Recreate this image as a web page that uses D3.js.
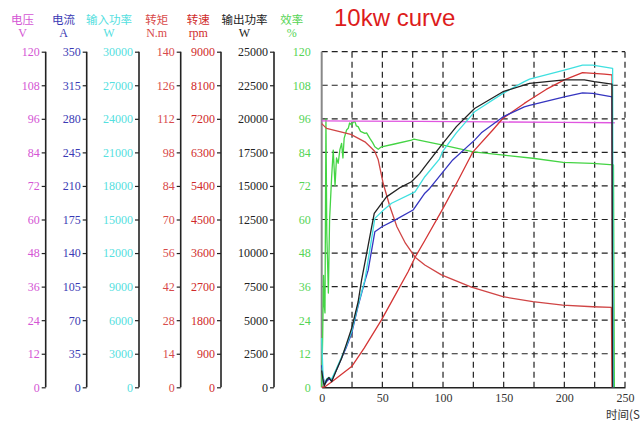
<!DOCTYPE html>
<html>
<head>
<meta charset="utf-8">
<script src="https://cdn.jsdelivr.net/npm/d3@7"></script>
<style>
  body { margin: 0; background: #fff; }
  svg { display: block; }
  .num { font-family: "Liberation Serif", "DejaVu Serif", serif; font-size: 12px; }
  .cjk { font-family: "Noto Sans CJK SC", sans-serif; font-size: 11.5px; }
</style>
</head>
<body>
<svg id="chart" width="641" height="423"></svg>
<script>
// ============================================================
//  Data (time in s, values in each axis' own unit)
// ============================================================

const timeTicks = [0, 50, 100, 150, 200, 250];
const gridTimes = [25, 50, 75, 100, 125, 150, 175, 200, 225, 250];

const voltTicks = [0, 12, 24, 36, 48, 60, 72, 84, 96, 108, 120];
const ampTicks = [0, 35, 70, 105, 140, 175, 210, 245, 280, 315, 350];
const inPowTicks = [0, 3000, 6000, 9000, 12000, 15000, 18000, 21000, 24000, 27000, 30000];
const torqueTicks = [0, 14, 28, 42, 56, 70, 84, 98, 112, 126, 140];
const rpmTicks = [0, 900, 1800, 2700, 3600, 4500, 5400, 6300, 7200, 8100, 9000];
const outPowTicks = [0, 2500, 5000, 7500, 10000, 12500, 15000, 17500, 20000, 22500, 25000];
const effTicks = [0, 12, 24, 36, 48, 60, 72, 84, 96, 108, 120];

// voltage, V
const voltage = [[0, 95.3], [30, 95.2], [80, 95.1], [140, 94.9], [200, 94.7], [241.5, 94.6]];

// current, A
const current = [[0, 23], [1, 12], [2.5, 3], [4, 6], [6, 8.7], [8.2, 7.3], [12, 17.5], [16.4, 30.6],
  [20, 40.8], [24.7, 56.3], [30, 84.6], [35.6, 110.8], [38.3, 122.2], [43.8, 162.2], [50, 167.7],
  [60.3, 174.4], [75.3, 184.9], [85, 202.4], [89, 207.4], [100, 224.6], [108, 237.1], [126, 257.8],
  [131.6, 265.4], [149.4, 282], [167, 292.5], [171.3, 294], [200, 303], [215, 307.1], [223.4, 306.5],
  [239.5, 303], [240, 0]];

// input power, W
const inputPower = [[0, 4400], [1.3, 350], [2.5, 375], [4, 750], [6, 875], [8.2, 750], [12, 1625],
  [16.4, 2700], [20, 3625], [24.7, 5000], [30, 7375], [35.6, 9600], [40, 12500], [43.8, 15100],
  [50, 15750], [57.6, 16450], [76.9, 17475], [85, 18825], [97, 20400], [100, 21125], [111, 22750],
  [126, 24625], [149.4, 26275], [167, 27325], [171.3, 27550], [200, 28350], [215, 28800],
  [223.4, 28800], [239.8, 28500], [240.3, 0]];

// torque, N.m
const torque = [[0, 110], [4, 108], [24, 105.5], [35.6, 102.4], [41, 99.8], [43.8, 98.4], [46.6, 94.9],
  [50.7, 85], [56.2, 75.4], [62, 67], [69, 60.1], [77, 54.3], [85, 51], [98.7, 46.9], [123.4, 41.8],
  [149.4, 37.8], [174, 35.7], [198.7, 34.3], [223.4, 33.6], [238.8, 33.3], [239.3, 0]];

// speed, rpm
const speed = [[0, 0], [2.7, 15], [10, 188], [24.7, 555], [35, 1050], [49.3, 1808], [60, 2438],
  [71.2, 3098], [77, 3488], [85, 3938], [100, 4800], [110, 5400], [124.7, 6315], [141, 6900],
  [149.4, 7215], [167, 7613], [171.3, 7703], [185, 7988], [200, 8243], [215, 8438], [233, 8400],
  [239.3, 8378], [239.8, 0]];

// output power, W
const outputPower = [[0, 1250], [1, 625], [2, 104], [4, 542], [6, 729], [8.2, 417], [12, 1250],
  [16.4, 2167], [20, 3125], [24.7, 4396], [30, 6354], [32.9, 8000], [38, 10417], [43.3, 12958],
  [53.4, 14188], [65, 14896], [74, 15313], [80.8, 15938], [85, 16438], [98.7, 18042], [111, 19417],
  [126, 20771], [149.4, 22021], [171.3, 22646], [200, 22896], [216.5, 22896], [224.7, 22771],
  [239.3, 22583], [239.8, 0]];

// efficiency, %
const efficiency = [[0, 0], [0.8, 18], [1.5, 40], [2, 30], [2.7, 26.6], [3.5, 96], [4.2, 55],
  [5.5, 33.7], [6.5, 60], [8.2, 75.3], [9.5, 84.8], [11, 72], [12.2, 82], [13.6, 80.1], [15, 85],
  [16.4, 87.2], [17.5, 82], [18.5, 89], [20.5, 92], [21.9, 92.6], [23, 94.5], [24.7, 93.8],
  [26, 94.8], [27.4, 95], [28.5, 93.5], [30, 93.2], [32, 91.5], [35.6, 90.8], [37, 91], [39.7, 89],
  [42, 87.5], [43.8, 86], [46.6, 85.1], [49.3, 86], [60, 87], [74, 88.4], [76, 88.7], [100, 86.6],
  [125, 84.2], [150, 83], [174, 81.9], [199, 80.4], [223, 80.1], [240.5, 79.5], [241.2, 0]];

// ============================================================
//  Layout
// ============================================================

const svg = d3.select('#chart');
const plot = { left: 321.7, right: 625, top: 51.7, bottom: 387.3 };

const x = d3.scaleLinear().domain([0, 250]).range([plot.left, plot.right]);
const yOf = max => d3.scaleLinear().domain([0, max]).range([plot.bottom, plot.top]);

const axes = [
  { name: '电压', unit: 'V', ticks: voltTicks, pos: 45.7, head: 22.5, color: '#d455d4' },
  { name: '电流', unit: 'A', ticks: ampTicks, pos: 86.7, head: 63.5, color: '#3a3ab4' },
  { name: '输入功率', unit: 'W', ticks: inPowTicks, pos: 139, head: 109, color: '#55e0e0' },
  { name: '转矩', unit: 'N.m', ticks: torqueTicks, pos: 180.7, head: 156.7, color: '#d84a4a' },
  { name: '转速', unit: 'rpm', ticks: rpmTicks, pos: 221, head: 198.3, color: '#cf2a2a' },
  { name: '输出功率', unit: 'W', ticks: outPowTicks, pos: 274, head: 244.5, color: '#222' },
  { name: '效率', unit: '%', ticks: effTicks, pos: plot.left, head: 291.7, color: '#55d455' },
];

// ============================================================
//  Grid
// ============================================================

const effScale = yOf(120);
const grid = svg.append('g')
  .attr('stroke', '#222').attr('stroke-width', 1.2).attr('stroke-dasharray', '6,4');

grid.selectAll('line.h').data(effTicks.slice(1)).join('line')
  .attr('x1', plot.left).attr('x2', plot.right)
  .attr('y1', d => effScale(d)).attr('y2', d => effScale(d));

grid.selectAll('line.v').data(gridTimes).join('line')
  .attr('x1', d => x(d)).attr('x2', d => x(d))
  .attr('y1', plot.top).attr('y2', plot.bottom);

// ============================================================
//  Left axes
// ============================================================

axes.forEach((a, idx) => {
  const scale = yOf(a.ticks[a.ticks.length - 1]);
  const isEff = idx === axes.length - 1;
  const g = svg.append('g').attr('transform', `translate(${a.pos},0)`);
  g.call(d3.axisLeft(scale).tickValues(a.ticks)
    .tickSize(isEff ? 0 : 4).tickPadding(isEff ? 11 : 2).tickFormat(d3.format('d')));
  g.select('.domain').remove();
  g.selectAll('.tick line').attr('stroke', '#222').attr('stroke-width', 1.2);
  g.selectAll('.tick text').attr('class', 'num').attr('fill', a.color).attr('font-size', null)
    .attr('font-family', null);
  g.append('line')
    .attr('y1', plot.top).attr('y2', plot.bottom)
    .attr('stroke', isEff ? '#888' : '#222').attr('stroke-width', isEff ? 2 : 1.6);

  svg.append('text').attr('class', 'cjk').attr('x', a.head).attr('y', 24)
    .attr('text-anchor', 'middle').attr('fill', a.color).text(a.name);
  svg.append('text').attr('class', 'num').attr('x', a.head).attr('y', 37)
    .attr('text-anchor', 'middle').attr('fill', a.color).text(a.unit);
});

// ============================================================
//  Bottom axis
// ============================================================

const xg = svg.append('g').attr('transform', `translate(0,${plot.bottom})`);
xg.call(d3.axisBottom(x).tickValues(timeTicks).tickSize(0).tickPadding(6));
xg.select('.domain').attr('stroke', '#222').attr('stroke-width', 1.6);
xg.selectAll('.tick text').attr('class', 'num').attr('fill', '#333')
  .attr('font-size', null).attr('font-family', null);

svg.append('text').attr('class', 'cjk').attr('x', 606).attr('y', 419)
  .attr('fill', '#333').text('时间(S');

// ============================================================
//  Curves
// ============================================================

const series = [
  { data: efficiency, max: 120, color: '#44d444' },
  { data: voltage, max: 120, color: '#e055e0' },
  { data: speed, max: 9000, color: '#d43535' },
  { data: torque, max: 140, color: '#d04545' },
  { data: current, max: 350, color: '#3535c0' },
  { data: inputPower, max: 30000, color: '#3fe0e0' },
  { data: outputPower, max: 25000, color: '#222' },
];

series.forEach(s => {
  const y = yOf(s.max);
  svg.append('path').datum(s.data)
    .attr('fill', 'none').attr('stroke', s.color).attr('stroke-width', 1.3)
    .attr('stroke-linejoin', 'round')
    .attr('d', d3.line().x(d => x(d[0])).y(d => y(d[1])));
});

// ============================================================
//  Title
// ============================================================

svg.append('text').attr('x', 334).attr('y', 26)
  .attr('font-family', 'Liberation Sans, Arial, sans-serif').attr('font-size', 24)
  .attr('fill', '#dd1c1c').text('10kw curve');
</script>
</body>
</html>
